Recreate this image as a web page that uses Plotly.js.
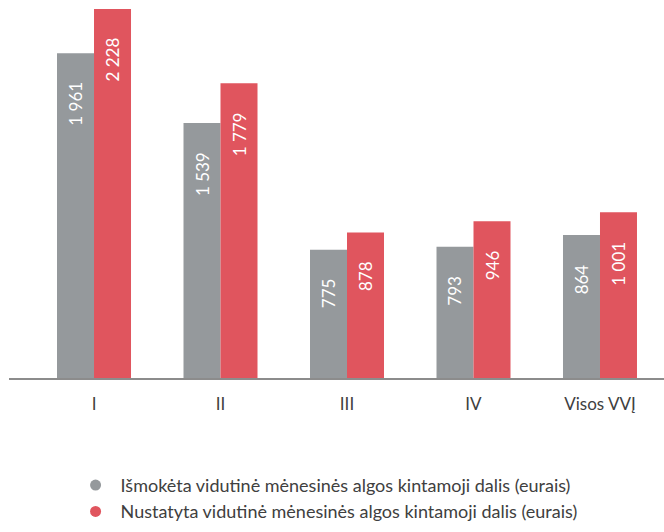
<!DOCTYPE html>
<html>
<head>
<meta charset="utf-8">
<script src="https://cdn.plot.ly/plotly-3.0.1.min.js"></script>
<style>html,body{margin:0;padding:0;background:#fff;}#chart{width:664px;height:532px;}</style>
</head>
<body>
<div id="chart"></div>
<script>
const categories = ['I', 'II', 'III', 'IV', 'Visos VVĮ'];
const paidValues = [1961, 1539, 775, 793, 864];
const setValues = [2228, 1779, 878, 946, 1001];
const seriesNames = [
  'Išmokėta vidutinė mėnesinės algos kintamoji dalis (eurais)',
  'Nustatyta vidutinė mėnesinės algos kintamoji dalis (eurais)'
];

const GRAY = '#95999c';
const RED = '#e0555e';

function fmt(v) {
  const s = String(v);
  return s.length > 3 ? s.slice(0, s.length - 3) + ' ' + s.slice(-3) : s;
}

const traces = [
  {
    type: 'bar', x: categories, y: paidValues, name: seriesNames[0],
    marker: {color: GRAY}, showlegend: false, hoverinfo: 'skip'
  },
  {
    type: 'bar', x: categories, y: setValues, name: seriesNames[1],
    marker: {color: RED}, showlegend: false, hoverinfo: 'skip'
  },
  {
    type: 'scatter', mode: 'markers', x: [null], y: [null], name: seriesNames[0],
    legendgroup: 'a',
    marker: {color: GRAY, size: 11, symbol: 'circle'}, showlegend: true
  },
  {
    type: 'scatter', mode: 'markers', x: [null], y: [null], name: seriesNames[1],
    legendgroup: 'b',
    marker: {color: RED, size: 11, symbol: 'circle'}, showlegend: true
  }
];

// value labels, rotated, placed inside the top of each bar
const labelFont = {family: 'Lato, sans-serif', size: 17, color: '#ffffff'};
const annotations = [];
[[paidValues, -18.5], [setValues, 18.5]].forEach(([vals, dx]) => {
  vals.forEach((v, i) => {
    annotations.push({
      x: categories[i], y: v, xref: 'x', yref: 'y',
      text: fmt(v), showarrow: false, textangle: -90,
      xanchor: 'center', yanchor: 'top', xshift: dx, yshift: -27,
      font: labelFont
    });
  });
});

const layout = {
  width: 664, height: 532,
  margin: {l: 9, r: 0, t: 0, b: 154, pad: 0},
  paper_bgcolor: '#ffffff', plot_bgcolor: '#ffffff',
  barmode: 'group', bargap: 0.415, bargroupgap: 0,
  font: {family: 'Lato, sans-serif', color: '#404040'},
  xaxis: {
    type: 'category', range: [-0.672, 4.506],
    showline: true, linecolor: '#8c8c8c', linewidth: 2,
    ticks: '', showgrid: false, zeroline: false,
    tickfont: {family: 'Lato, sans-serif', size: 17, color: '#404040'},
    ticklabelstandoff: 10, fixedrange: true
  },
  yaxis: {
    range: [0, 2282], visible: false, showgrid: false, zeroline: false, fixedrange: true
  },
  annotations: annotations,
  showlegend: true,
  legend: {
    orientation: 'v', x: 0.094, xanchor: 'left', y: -0.235, yanchor: 'top',
    font: {family: 'Lato, sans-serif', size: 18, color: '#404040'},
    bgcolor: 'rgba(0,0,0,0)', itemwidth: 40, traceorder: 'grouped', tracegroupgap: 0
  }
};

Plotly.newPlot('chart', traces, layout, {staticPlot: true, displayModeBar: false});
</script>
</body>
</html>
